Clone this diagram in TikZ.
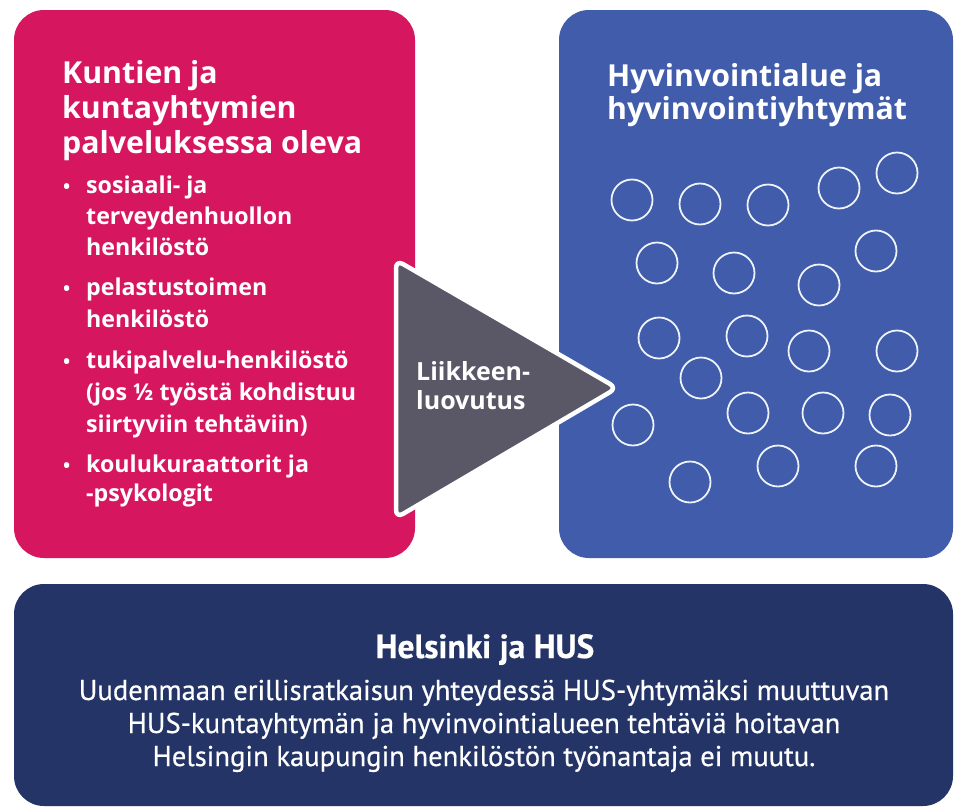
\documentclass[tikz,border=0pt]{standalone}
\usepackage{fontspec}
\setmainfont{Open Sans}
\newfontfamily\ptsans[FakeBold=0.5]{PT Sans}
\definecolor{pinkc}{HTML}{D61760}
\definecolor{bluec}{HTML}{405CAA}
\definecolor{navyc}{HTML}{243466}
\definecolor{grayc}{HTML}{5A5866}
\definecolor{ringc}{HTML}{EEF2FA}
\tikzset{
  titletext/.style={anchor=base west, inner sep=0, text=white, font=\fontsize{30.3}{33}\selectfont\bfseries},
  bullettext/.style={anchor=base west, inner sep=0, text=white, font=\fontsize{23.2}{27}\selectfont\bfseries},
  bulletdot/.style={anchor=base west, inner sep=0, text=white, font=\fontsize{19}{24}\selectfont\bfseries},
  arrowtext/.style={anchor=base west, inner sep=0, text=white, font=\fontsize{25}{28}\selectfont\bfseries},
  ring/.style={draw=ringc, line width=1.8pt},
  bottomhead/.style={anchor=base, inner sep=0, text=white, font=\ptsans\fontsize{33.5}{36}\selectfont\bfseries},
  bottomtext/.style={anchor=base, inner sep=0, text=white, font=\ptsans\fontsize{28.6}{31}\selectfont},
}
\begin{document}
\begin{tikzpicture}[x=1pt,y=-1pt]
\useasboundingbox[fill=white] (0,0) rectangle (956,809);
% boxes
\fill[pinkc, rounded corners=30pt] (14,10) rectangle (415,558);
\fill[bluec, rounded corners=30pt] (559,10) rectangle (953,558);
\fill[navyc, rounded corners=30pt] (14,584) rectangle (953,806);
% left title
\node[titletext] (lt1) at (62,83) {Kuntien ja};
\node[titletext] (lt2) at (62,118) {kuntayhtymien};
\node[titletext] (lt3) at (62,153) {palveluksessa oleva};
% bullets
\node[bulletdot] (b1) at (63,193) {•};
\node[bullettext] (b1a) at (86,193) {sosiaali- ja};
\node[bullettext] (b1b) at (86,224) {terveydenhuollon};
\node[bullettext] (b1c) at (86,255) {henkilöstö};
\node[bulletdot] (b2) at (63,295) {•};
\node[bullettext] (b2a) at (86,295) {pelastustoimen};
\node[bullettext] (b2b) at (86,327) {henkilöstö};
\node[bulletdot] (b3) at (63,368) {•};
\node[bullettext] (b3a) at (86,368) {tukipalvelu-henkilöstö};
\node[bullettext] (b3b) at (86,400) {(jos ½ työstä kohdistuu};
\node[bullettext] (b3c) at (86,432) {siirtyviin tehtäviin)};
\node[bulletdot] (b4) at (63,472) {•};
\node[bullettext] (b4a) at (86,472) {koulukuraattorit ja};
\node[bullettext] (b4b) at (86,501) {-psykologit};
% right title
\node[titletext] (rt1) at (607,86) {Hyvinvointialue ja};
\node[titletext] (rt2) at (607,119) {hyvinvointiyhtymät};
% circles
\foreach \cx/\cy [count=\i] in {632/200,700/204,768/205,839/188,897/173,
  657/263,734/273,819/285,876/251,
  659/338,747/336,809/351,897/351,701/378,
  748/413,823/413,890/415,633/425,
  690/482,778/466,876/466}
  \draw[ring] (\cx,\cy) circle[radius=20.5];
% triangle
\draw[white, line width=4.5pt, fill=grayc, rounded corners=8pt, line join=round]
  (396,260) -- (617,388) -- (396,518) -- cycle;
\node[arrowtext] (ar1) at (416,380) {Liikkeen-};
\node[arrowtext] (ar2) at (416,409) {luovutus};
% bottom
\node[bottomhead] (bh) at (485,658) {Helsinki ja HUS};
\node[bottomtext] (bl1) at (484,700) {Uudenmaan erillisratkaisun yhteydessä HUS-yhtymäksi muuttuvan};
\node[bottomtext] (bl2) at (484,733) {HUS-kuntayhtymän ja hyvinvointialueen tehtäviä hoitavan};
\node[bottomtext] (bl3) at (484,766) {Helsingin kaupungin henkilöstön työnantaja ei muutu.};
\end{tikzpicture}
\end{document}
